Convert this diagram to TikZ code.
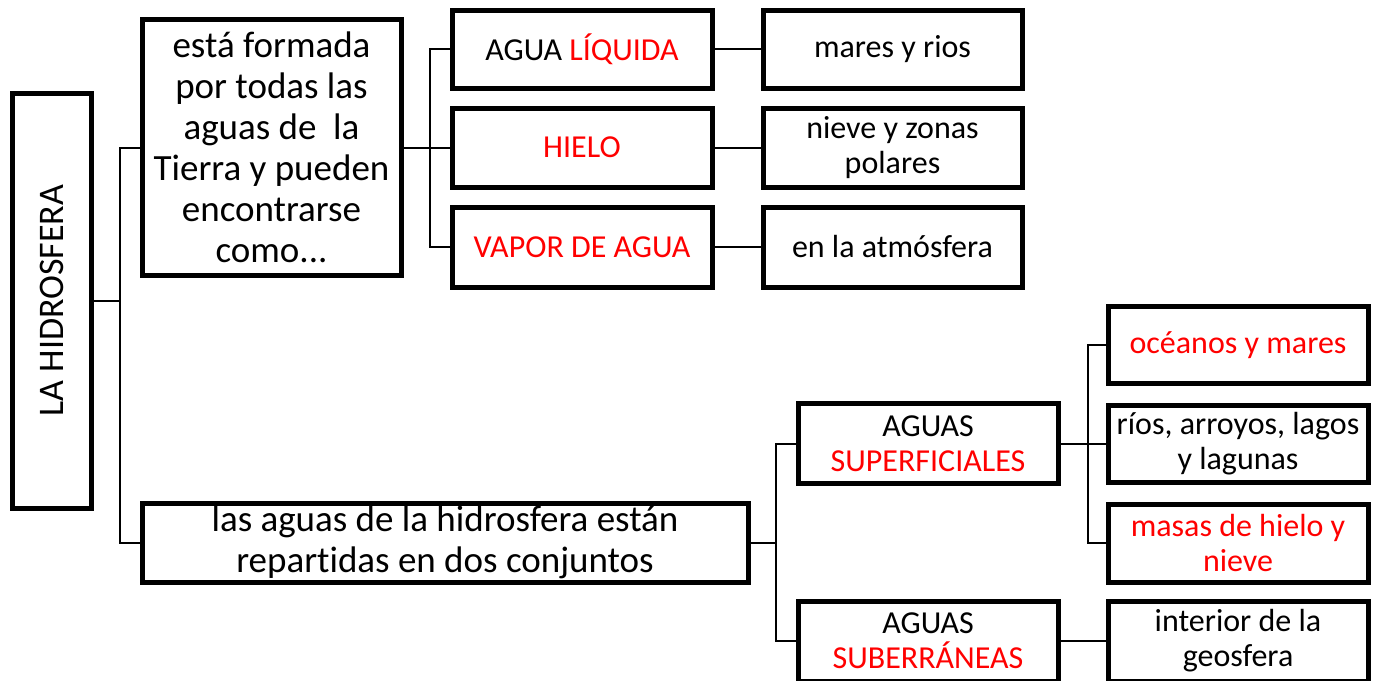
\documentclass[tikz,border=0pt]{standalone}
\usepackage{fontspec}
\setmainfont{Carlito}[Ligatures={NoCommon}]
\begin{document}
\begin{tikzpicture}[x=1pt,y=-1pt,
  box/.style={draw=black,line width=5pt,fill=white,rectangle,inner sep=2pt,align=center,minimum width=260pt},
  big/.style={font=\fontsize{37}{41}\selectfont},
  mid/.style={font=\fontsize{32}{35}\selectfont},
  conn/.style={draw=black,line width=2pt}]
\useasboundingbox (0,0) rectangle (1378,680);
\definecolor{rojo}{RGB}{255,0,0}
% left
\node[box,minimum width=79pt,minimum height=415pt] (hidro) at (51.5,300.5) {};
\node[rotate=90,font=\fontsize{36}{40}\selectfont] at (hidro.center) {LA HIDROSFERA};
\node[box,big,minimum width=259pt,minimum height=256pt] (formada) at (271.5,147.5) {está formada\\por todas las\\aguas de~ la\\Tierra y pueden\\encontrarse\\como...};
\node[box,big,minimum width=606pt,minimum height=79pt] (rep) at (445,542.5) {las aguas de la hidrosfera están\\repartidas en dos conjuntos};
% middle top
\node[box,mid,minimum height=78pt] (liq) at (582,49) {AGUA \textcolor{rojo}{LÍQUIDA}};
\node[box,mid,minimum height=79pt] (hielo) at (582,147.5) {\textcolor{rojo}{HIELO}};
\node[box,mid,minimum height=80pt] (vapor) at (582,247) {\textcolor{rojo}{VAPOR DE AGUA}};
\node[box,mid,minimum width=259pt,minimum height=78pt] (mares) at (892.5,49) {mares y rios};
\node[box,mid,minimum width=259pt,minimum height=79pt] (nieve) at (892.5,147.5) {nieve y zonas\\polares};
\node[box,mid,minimum width=259pt,minimum height=80pt] (atm) at (892.5,247) {en la atmósfera};
% bottom
\node[box,mid,minimum height=80pt] (sup) at (928,443.5) {AGUAS\\\textcolor{rojo}{SUPERFICIALES}};
\node[box,mid,minimum height=80pt] (sub) at (928,641) {AGUAS\\\textcolor{rojo}{SUBERRÁNEAS}};
\node[box,mid,minimum height=77pt] (oce) at (1238,345) {\textcolor{rojo}{océanos y mares}};
\node[box,mid,minimum height=77pt] (rios) at (1238,443.5) {ríos, arroyos, lagos\\y lagunas};
\node[box,mid,minimum height=78pt] (masas) at (1238,543) {\textcolor{rojo}{masas de hielo y}\\\textcolor{rojo}{nieve}};
\node[box,mid,minimum height=80pt] (int) at (1238,641) {interior de la\\geosfera};
% connectors
\draw[conn] (hidro.east) -- ++(26,0) |- (formada.west);
\draw[conn] (hidro.east) -- ++(26,0) |- (rep.west);
\draw[conn] (formada.east) -- ++(26,0) |- (liq.west);
\draw[conn] (formada.east) -- (hielo.west);
\draw[conn] (formada.east) -- ++(26,0) |- (vapor.west);
\draw[conn] (liq.east) -- (mares.west);
\draw[conn] (hielo.east) -- (nieve.west);
\draw[conn] (vapor.east) -- (atm.west);
\draw[conn] (rep.east) -- ++(25,0) |- (sup.west);
\draw[conn] (rep.east) -- ++(25,0) |- (sub.west);
\draw[conn] (sup.east) -- ++(27,0) |- (oce.west);
\draw[conn] (sup.east) -- (rios.west);
\draw[conn] (sup.east) -- ++(27,0) |- (masas.west);
\draw[conn] (sub.east) -- (int.west);
\end{tikzpicture}
\end{document}
